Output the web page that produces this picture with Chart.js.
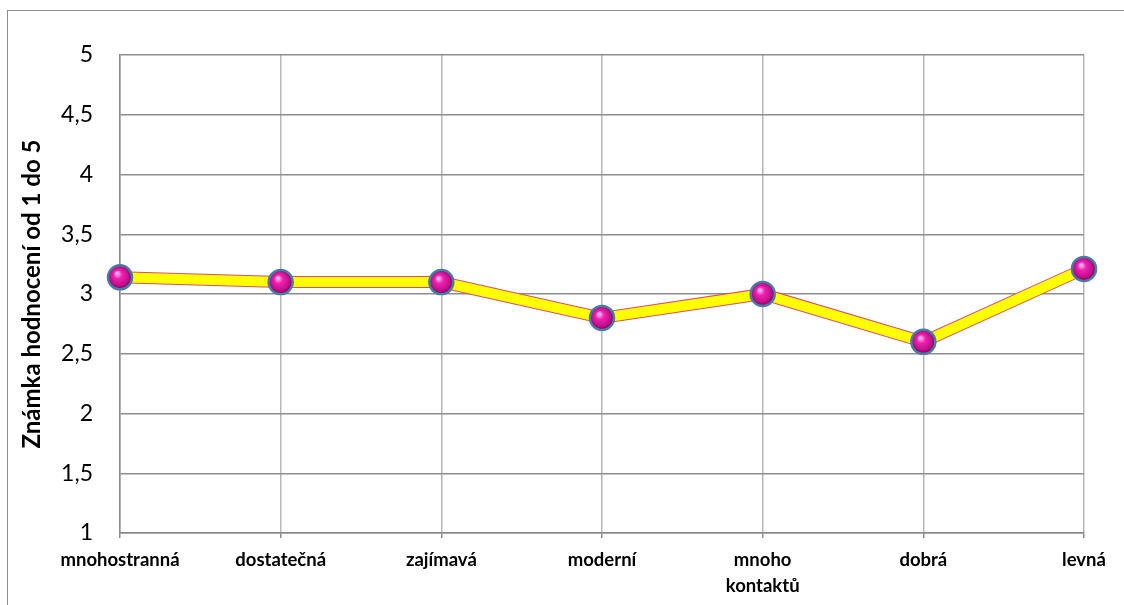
<!doctype html>
<html lang="cs">
<head>
    <meta charset="utf-8">
    <title>Známka hodnocení</title>
    <script src="https://cdn.jsdelivr.net/npm/chart.js@4.4.1/dist/chart.umd.min.js"></script>
    <style>
        html, body { margin: 0; padding: 0; background: #fff; overflow: hidden; }
        .wrap { position: relative; width: 1124px; height: 605px; }
        .frame { position: absolute; left: 7px; top: 10px; width: 1200px; height: 700px;
                 border-left: 1px solid #8e8e8e; border-top: 1px solid #8e8e8e; }
        canvas { position: absolute; left: 0; top: 0; }
    </style>
</head>
<body>
<div class="wrap">
    <div class="frame"></div>
    <canvas id="gradeCanvas" width="1124" height="605"></canvas>
</div>

<script>
    // values
    let categories = ['mnohostranná', 'dostatečná', 'zajímavá', 'moderní', ['mnoho', 'kontaktů'], 'dobrá', 'levná'];
    let grades = [3.14, 3.10, 3.10, 2.80, 3.00, 2.60, 3.21];
    let yTickLabels = ['1', '1,5', '2', '2,5', '3', '3,5', '4', '4,5', '5'];

    // shaded ball for each point
    function sphere(ctx) {
        let chart = ctx.chart;
        if (ctx.parsed === undefined || !chart.scales.x) {
            return '#e0179f';
        }
        let x = chart.scales.x.getPixelForValue(ctx.dataIndex);
        let y = chart.scales.y.getPixelForValue(ctx.parsed.y);
        if (!isFinite(x) || !isFinite(y)) {
            return '#e0179f';
        }
        let g = chart.ctx.createRadialGradient(x - 3, y - 4, 1, x, y, 12);
        g.addColorStop(0, '#ffb0f0');
        g.addColorStop(0.3, '#f020b0');
        g.addColorStop(0.75, '#c0108a');
        g.addColorStop(1, '#700050');
        return g;
    }

    new Chart(document.getElementById('gradeCanvas'), {
        type: 'line',
        data: {
            labels: categories,
            datasets: [{
                label: 'Známka',
                data: grades,
                borderColor: '#ffff00',
                borderWidth: 10,
                tension: 0,
                pointRadius: 12,
                pointHoverRadius: 12,
                pointBorderWidth: 2.5,
                pointBorderColor: '#4a7aa6',
                pointBackgroundColor: sphere,
                order: 0
            }, {
                label: 'okraj',
                data: grades,
                borderColor: '#d8506a',
                borderWidth: 12,
                tension: 0,
                pointRadius: 0,
                order: 1
            }]
        },
        options: {
            responsive: false,
            animation: false,
            layout: {
                padding: {left: 18, top: 55, right: 40, bottom: 0}
            },
            plugins: {
                legend: {display: false},
                tooltip: {enabled: false}
            },
            scales: {
                x: {
                    offset: false,
                    afterFit: function (scale) { scale.height = 72; },
                    grid: {
                        color: '#b8b8b8',
                        lineWidth: 1.5,
                        tickLength: 5,
                        tickColor: '#8a8a8a'
                    },
                    border: {color: '#8a8a8a', width: 1.5},
                    ticks: {
                        color: '#000',
                        padding: 9,
                        maxRotation: 0,
                        autoSkip: false,
                        font: {family: 'Lato', size: 18.5, weight: 'bold', lineHeight: 1.4}
                    }
                },
                y: {
                    min: 1,
                    max: 5,
                    afterFit: function (scale) { scale.width = 102; },
                    grid: {
                        color: '#8e8e8e',
                        lineWidth: 1.5,
                        drawTicks: false
                    },
                    border: {color: '#8a8a8a', width: 1.5},
                    ticks: {
                        stepSize: 0.5,
                        color: '#000',
                        padding: 27,
                        font: {family: 'Lato', size: 23},
                        callback: function (value, index) { return yTickLabels[index]; }
                    },
                    title: {
                        display: true,
                        text: 'Známka hodnocení od 1 do 5',
                        color: '#000',
                        padding: {top: 0, bottom: 0},
                        font: {family: 'Lato', size: 24, weight: 'bold', lineHeight: 1.2}
                    }
                }
            }
        }
    });
</script>
</body>
</html>
